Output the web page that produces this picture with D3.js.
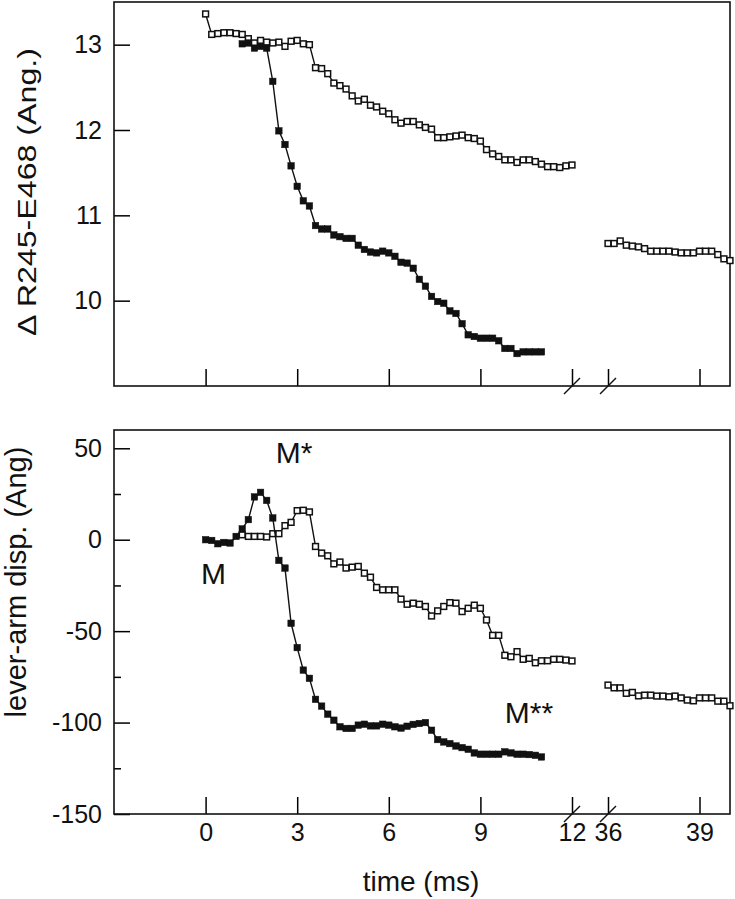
<!DOCTYPE html>
<html>
<head>
<meta charset="utf-8">
<script src="https://cdn.jsdelivr.net/npm/d3@7"></script>
<style>
  body { margin: 0; background: #fff; }
  text { font-family: "Liberation Sans", Arial, sans-serif; fill: #111; }
</style>
</head>
<body>
<div id="graph"></div>
<script>
// time (ms) tick labels, broken axis 12 -> 36
var timeTicks = [0, 3, 6, 9, 12, 36, 39];
var breakAt = [12, 36];

// top panel: distance R245-E468 (Ang.)
var topTicks = [10, 11, 12, 13];
var topOpen = [[0,13.36],[0.2,13.12],[0.4,13.13],[0.6,13.14],[0.8,13.14],[1.0,13.13],[1.2,13.12],[1.4,13.07],
  [1.6,13.02],[1.8,13.05],[2.0,13.03],[2.2,13.02],[2.4,13.03],[2.6,12.98],[2.8,13.04],[3.0,13.05],[3.2,13.01],
  [3.4,13.00],[3.6,12.73],[3.8,12.72],[4.0,12.66],[4.2,12.55],[4.4,12.52],[4.6,12.48],[4.8,12.40],[5.0,12.34],
  [5.2,12.36],[5.4,12.29],[5.6,12.27],[5.8,12.22],[6.0,12.19],[6.2,12.12],[6.4,12.08],[6.6,12.10],[6.8,12.10],
  [7.0,12.06],[7.2,12.03],[7.4,12.01],[7.6,11.91],[7.8,11.91],[8.0,11.92],[8.2,11.93],[8.4,11.94],[8.6,11.91],
  [8.8,11.90],[9.0,11.87],[9.2,11.77],[9.4,11.72],[9.6,11.69],[9.8,11.65],[10.0,11.65],[10.2,11.62],[10.4,11.65],
  [10.6,11.65],[10.8,11.63],[11.0,11.60],[11.2,11.57],[11.4,11.57],[11.6,11.56],[11.8,11.58],[12.0,11.59]];
var topOpenLate = [[36.0,10.67],[36.2,10.67],[36.4,10.70],[36.6,10.65],[36.8,10.64],[37.0,10.63],[37.2,10.61],
  [37.4,10.58],[37.6,10.58],[37.8,10.58],[38.0,10.58],[38.2,10.57],[38.4,10.56],[38.6,10.56],[38.8,10.56],
  [39.0,10.58],[39.2,10.58],[39.4,10.58],[39.6,10.54],[39.8,10.49],[40.0,10.47]];
var topFilled = [[1.2,13.01],[1.4,13.02],[1.6,12.96],[1.8,12.98],[2.0,12.96],[2.2,12.57],[2.4,11.99],[2.6,11.83],
  [2.8,11.58],[3.0,11.34],[3.2,11.17],[3.4,11.11],[3.6,10.88],[3.8,10.84],[4.0,10.84],[4.2,10.77],[4.4,10.75],
  [4.6,10.73],[4.8,10.73],[5.0,10.65],[5.2,10.60],[5.4,10.57],[5.6,10.56],[5.8,10.58],[6.0,10.56],[6.2,10.52],
  [6.4,10.45],[6.6,10.44],[6.8,10.38],[7.0,10.25],[7.2,10.17],[7.4,10.05],[7.6,9.99],[7.8,9.97],[8.0,9.88],
  [8.2,9.85],[8.4,9.73],[8.6,9.60],[8.8,9.58],[9.0,9.56],[9.2,9.56],[9.4,9.56],[9.6,9.53],[9.8,9.44],[10.0,9.44],
  [10.2,9.38],[10.4,9.40],[10.6,9.40],[10.8,9.40],[11.0,9.40]];

// bottom panel: lever-arm displacement (Ang)
var botTicks = [-150, -100, -50, 0, 50];
var botMinor = [-125, -75, -25, 25];
var botOpen = [[1.2,2.7],[1.4,1.8],[1.6,1.8],[1.8,1.8],[2.0,1.5],[2.2,3.3],[2.4,3.3],[2.6,7.7],[2.8,9.5],
  [3.0,15.9],[3.2,16.1],[3.4,15.2],[3.6,-3.7],[3.8,-7.3],[4.0,-8.8],[4.2,-13.2],[4.4,-12.2],[4.6,-15.5],
  [4.8,-15.0],[5.0,-14.6],[5.2,-18.3],[5.4,-20.5],[5.6,-26.1],[5.8,-27.4],[6.0,-27.4],[6.2,-27.4],[6.4,-32.5],
  [6.6,-35.3],[6.8,-34.7],[7.0,-35.3],[7.2,-36.5],[7.4,-41.7],[7.6,-38.9],[7.8,-36.5],[8.0,-34.4],[8.2,-34.7],
  [8.4,-39.3],[8.6,-37.5],[8.8,-35.8],[9.0,-37.5],[9.2,-43.9],[9.4,-52.3],[9.6,-52.3],[9.8,-63.2],[10.0,-64.0],
  [10.2,-61.2],[10.4,-65.4],[10.6,-64.9],[10.8,-67.3],[11.0,-66.2],[11.2,-66.2],[11.4,-65.4],[11.6,-65.4],
  [11.8,-65.8],[12.0,-66.3]];
var botOpenLate = [[36.0,-79.5],[36.2,-81.0],[36.4,-81.0],[36.6,-84.0],[36.8,-83.5],[37.0,-85.4],[37.2,-85.0],
  [37.4,-85.0],[37.6,-85.5],[37.8,-85.5],[38.0,-85.9],[38.2,-85.5],[38.4,-86.5],[38.6,-87.7],[38.8,-88.1],
  [39.0,-86.5],[39.2,-86.5],[39.4,-86.5],[39.6,-88.3],[39.8,-88.3],[40.0,-90.8]];
var botFilled = [[0,0],[0.2,-0.4],[0.4,-2.2],[0.6,-1.5],[0.8,-1.8],[1.0,1.8],[1.2,5.9],[1.4,11.0],[1.6,23.4],
  [1.8,25.9],[2.0,21.5],[2.2,11.9],[2.4,-11.3],[2.6,-15.5],[2.8,-45.7],[3.0,-59.0],[3.2,-71.3],[3.4,-75.8],
  [3.6,-87.3],[3.8,-91.0],[4.0,-95.4],[4.2,-98.7],[4.4,-102.3],[4.6,-103.2],[4.8,-103.2],[5.0,-101.4],
  [5.2,-100.9],[5.4,-101.8],[5.6,-101.8],[5.8,-100.9],[6.0,-101.4],[6.2,-102.3],[6.4,-103.0],[6.6,-102.0],
  [6.8,-101.0],[7.0,-100.5],[7.2,-100.0],[7.4,-104.2],[7.6,-109.3],[7.8,-110.6],[8.0,-111.5],[8.2,-112.8],
  [8.4,-113.7],[8.6,-114.6],[8.8,-116.6],[9.0,-117.3],[9.2,-117.3],[9.4,-117.3],[9.6,-117.3],[9.8,-116.0],
  [10.0,-116.6],[10.2,-117.3],[10.4,-117.3],[10.6,-117.5],[10.8,-117.9],[11.0,-118.8]];

var labels = [{text: "M", t: -0.15, v: -24}, {text: "M*", t: 2.3, v: 42}, {text: "M**", t: 9.8, v: -100}];

var W = 735, H = 899;
var left = 114, right = 730;

var svg = d3.select('#graph')
    .append('svg')
    .attr('width', W)
    .attr('height', H);

// piecewise scale for the broken time axis
var x = d3.scaleLinear()
    .domain([-3, 12, 36, 40])
    .range([left, 572, 608, right]);

var plain = function(d){ return String(d); };   // hyphen minus, no decimals

function panel(top, bottom, yDomain, ticks, minor) {
    var y = d3.scaleLinear().domain(yDomain).range([bottom, top]);
    var g = svg.append('g');

    var yAxis = g.append('g')
        .attr('transform', 'translate(' + left + ',0)')
        .call(d3.axisLeft(y).tickValues(ticks).tickFormat(plain).tickSize(-16).tickPadding(12));
    yAxis.select('.domain').remove();
    yAxis.selectAll('text').style('font-size', '25px');
    yAxis.selectAll('line').attr('stroke-width', 1.5);

    if (minor) {
        var m = g.append('g')
            .attr('transform', 'translate(' + left + ',0)')
            .call(d3.axisLeft(y).tickValues(minor).tickSize(-7).tickFormat(''));
        m.select('.domain').remove();
        m.selectAll('line').attr('stroke-width', 1.5);
    }

    var xAxis = g.append('g')
        .attr('transform', 'translate(0,' + bottom + ')')
        .call(d3.axisBottom(x).tickValues(timeTicks).tickFormat(plain).tickSize(-17).tickPadding(9));
    xAxis.select('.domain').remove();
    xAxis.selectAll('line').attr('stroke-width', 1.5);
    xAxis.selectAll('text').style('font-size', '25px');

    g.append('rect')
        .attr('x', left).attr('y', top)
        .attr('width', right - left).attr('height', bottom - top)
        .attr('fill', 'none').attr('stroke', '#111').attr('stroke-width', 1.6);

    // break marks on the time axis
    g.selectAll('.brk')
        .data(breakAt)
        .enter().append('line')
        .attr('x1', function(d){ return x(d) - 8; })
        .attr('x2', function(d){ return x(d) + 8; })
        .attr('y1', bottom + 8)
        .attr('y2', bottom - 8)
        .attr('stroke', '#111').attr('stroke-width', 1.4);

    return {g: g, y: y, xAxis: xAxis};
}

function series(p, data, filled) {
    var line = d3.line()
        .x(function(d){ return x(d[0]); })
        .y(function(d){ return p.y(d[1]); });
    p.g.append('path')
        .datum(data)
        .attr('d', line)
        .attr('fill', 'none')
        .attr('stroke', '#111')
        .attr('stroke-width', 1.4);
    var s = filled ? 6.5 : 5.8;
    p.g.selectAll(null)
        .data(data)
        .enter().append('rect')
        .attr('x', function(d){ return x(d[0]) - s / 2; })
        .attr('y', function(d){ return p.y(d[1]) - s / 2; })
        .attr('width', s)
        .attr('height', s)
        .attr('fill', filled ? '#111' : '#fff')
        .attr('stroke', '#111')
        .attr('stroke-width', filled ? 0.5 : 1.5);
}

var topP = panel(2, 386, [9, 13.5], topTicks, null);
topP.xAxis.selectAll('text').remove();
series(topP, topOpen, false);
series(topP, topOpenLate, false);
series(topP, topFilled, true);

var botP = panel(430, 814, [-150, 60], botTicks, botMinor);
series(botP, botOpen, false);
series(botP, botOpenLate, false);
series(botP, botFilled, true);

botP.g.selectAll('.lbl')
    .data(labels)
    .enter().append('text')
    .attr('x', function(d){ return x(d.t); })
    .attr('y', function(d){ return botP.y(d.v); })
    .style('font-size', '30px')
    .text(function(d){ return d.text; });

// axis titles
svg.append('text')
    .attr('transform', 'translate(36,192) rotate(-90)')
    .attr('text-anchor', 'middle')
    .attr('textLength', 288)
    .attr('lengthAdjust', 'spacingAndGlyphs')
    .style('font-size', '25px')
    .text('\u0394 R245-E468 (Ang.)');

svg.append('text')
    .attr('transform', 'translate(26,582) rotate(-90)')
    .attr('text-anchor', 'middle')
    .style('font-size', '29px')
    .text('lever-arm disp. (Ang)');

svg.append('text')
    .attr('x', 421)
    .attr('y', 891)
    .attr('text-anchor', 'middle')
    .style('font-size', '28px')
    .text('time (ms)');
</script>
</body>
</html>
